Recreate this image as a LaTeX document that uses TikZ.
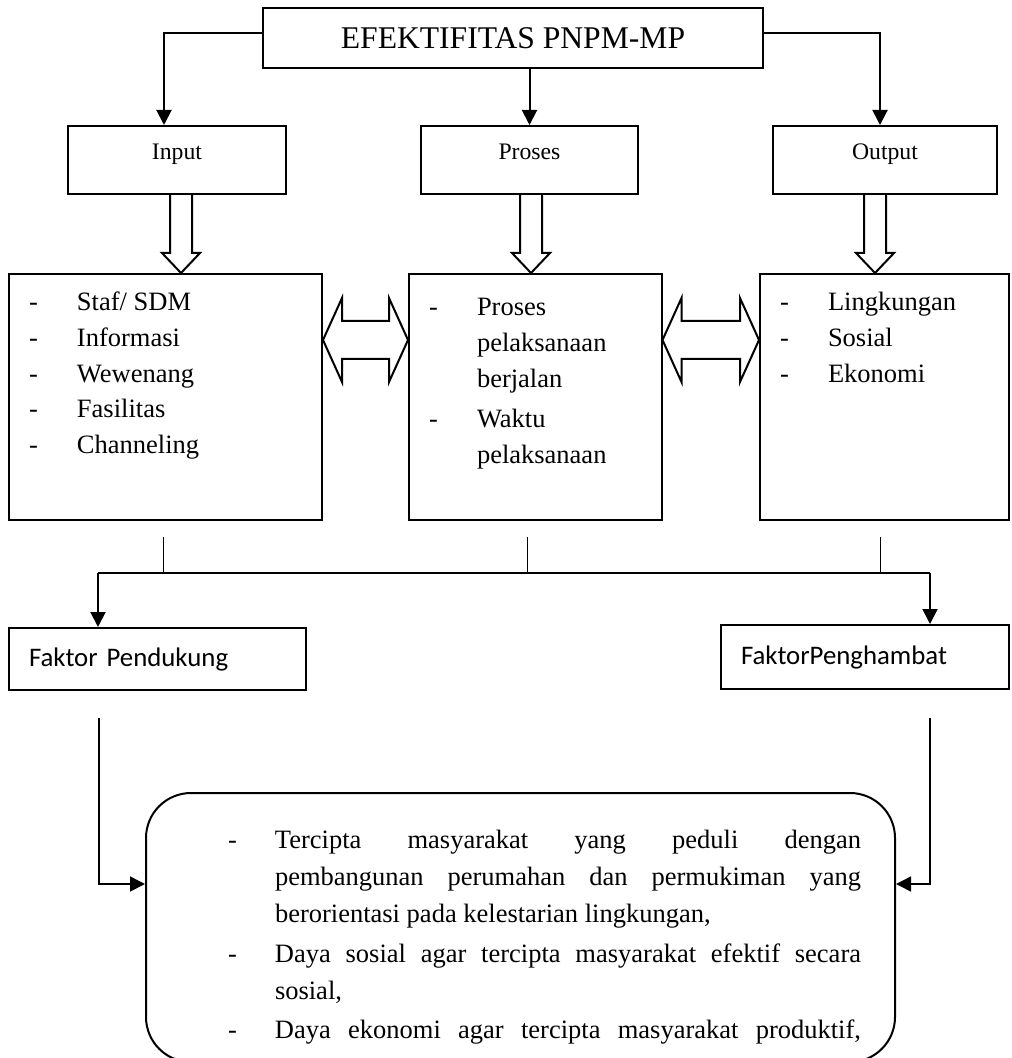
\documentclass[tikz,border=0pt]{standalone}
\usepackage{fontspec}
\setmainfont{Liberation Serif}
\newfontfamily\faktorfont{Carlito}
\usetikzlibrary{positioning,arrows.meta,calc}

\newcommand{\butir}[1]{\hspace*{10pt}\makebox[24pt][l]{-}#1}
\newcommand{\lanjut}[1]{\hspace*{34pt}#1}
\newcommand{\butirb}[1]{\hspace*{41pt}\makebox[23.5pt][l]{-}\makebox[293pt][s]{#1}}
\newcommand{\lanjutb}[1]{\hspace*{64.5pt}\makebox[293pt][s]{#1}}

% hollow block arrows
\newcommand{\panahbawah}[3]{%
  \draw[hollow] let \p1=($(#1.south)+(#3,0)$), \p2=(#2.north) in
    (\x1-5.5pt,\y1) -- (\x1-5.5pt,\y2+10pt) -- (\x1-9.5pt,\y2+10pt) -- (\x1,\y2)
    -- (\x1+9.5pt,\y2+10pt) -- (\x1+5.5pt,\y2+10pt) -- (\x1+5.5pt,\y1);}
\newcommand{\panahdua}[3]{%
  \draw[hollow] let \p1=($(#1.east)+(0,#3)$), \p2=(#2.west) in
    (\x1,\y1) -- (\x1+9.5pt,\y1+21pt) -- (\x1+9.5pt,\y1+9.5pt) -- (\x2-9.5pt,\y1+9.5pt)
    -- (\x2-9.5pt,\y1+21pt) -- (\x2,\y1) -- (\x2-9.5pt,\y1-21pt) -- (\x2-9.5pt,\y1-9.5pt)
    -- (\x1+9.5pt,\y1-9.5pt) -- (\x1+9.5pt,\y1-21pt) -- cycle;}

\begin{document}
\begin{tikzpicture}[x=0.5pt, y=-0.5pt, >={Triangle[length=7.5pt,width=7.5pt]},
box/.style={draw, line width=1pt, inner sep=0pt, text centered},
kotak/.style={box, minimum height=34pt, text height=8pt, text depth=8pt, font=\fontsize{11.85}{14}\selectfont},
daftar/.style={box, font=\fontsize{13.25}{17.8}\selectfont},
faktor/.style={box, inner xsep=10pt, align=left, font=\faktorfont\fontsize{13.4}{16}\selectfont},
hollow/.style={draw, line width=1pt, line join=miter},
link/.style={->, line width=1pt},
stub/.style={line width=0.5pt}
]
\useasboundingbox (0,0) rectangle (1011,1058);

\node (judul) [box, minimum width=250pt, minimum height=30pt, font=\fontsize{15.8}{19}\selectfont] at (513,38) {EFEKTIFITAS PNPM-MP};

\node (inp) [kotak, minimum width=109pt] at (177,160) {Input};
\node (pro) [kotak, minimum width=108.5pt] at (529.5,160) {Proses};
\node (out) [kotak, minimum width=112pt] at (885,160) {Output};

\node (sdm) [daftar] at (165.5,397) {\parbox[c][123pt][t]{156.5pt}{\vspace*{6pt}\strut\butir{Staf/ SDM}\\ \butir{Informasi}\\ \butir{Wewenang}\\ \butir{Fasilitas}\\ \butir{Channeling}}};
\node (pelaksanaan) [daftar] at (535.25,397) {\parbox[c][123pt][t]{126.25pt}{\vspace*{8.5pt}\strut\butir{Proses}\\ \lanjut{pelaksanaan}\\ \lanjut{berjalan}\\[2.5pt] \butir{Waktu}\\ \lanjut{pelaksanaan}}};
\node (dampak) [daftar] at (884.5,397) {\parbox[c][123pt][t]{124.5pt}{\vspace*{6pt}\strut\butir{Lingkungan}\\ \butir{Sosial}\\ \butir{Ekonomi}}};

\node (dukung) [faktor, text width=128.5pt, minimum height=31pt] at (157.5,659) {Faktor Pendukung};
\node (hambat) [faktor, text width=124pt, minimum height=32pt] at (865,657) {FaktorPenghambat};

\node (hasil) [box, rounded corners=22.5pt] at (520.5,927.5) {\parbox[c][134.5pt][t]{374.5pt}{\fontsize{13.25}{18.5}\selectfont\vspace*{15pt}\strut\butirb{Tercipta masyarakat yang peduli dengan}\\ \lanjutb{pembangunan perumahan dan permukiman yang}\\ \hspace*{64.5pt}berorientasi pada kelestarian lingkungan,\\[1.25pt] \butirb{Daya sosial agar tercipta masyarakat efektif secara}\\ \hspace*{64.5pt}sosial,\\[1.25pt] \butirb{Daya ekonomi agar tercipta masyarakat produktif,}}};

\draw[link] ([yshift=2.5pt]judul.west) -| ([xshift=-6.5pt]inp.north);
\draw[link] (judul.south -| pro.north) -- (pro.north);
\draw[link] ([yshift=2.5pt]judul.east) -| ([xshift=-2.5pt]out.north);

\panahbawah{inp}{sdm}{2pt}
\panahbawah{pro}{pelaksanaan}{0.75pt}
\panahbawah{out}{dampak}{-5pt}
\panahdua{sdm}{pelaksanaan}{28.5pt}
\panahdua{pelaksanaan}{dampak}{28.5pt}

\coordinate (busL) at (98,573);
\coordinate (busR) at (930,573);
\draw[stub] ($(sdm.south)+(-1.25pt,-8pt)$) -- ($(sdm.south |- busL)+(-1.25pt,0)$);
\draw[stub] ($(pelaksanaan.south)+(-4pt,-8pt)$) -- ($(pelaksanaan.south |- busL)+(-4pt,0)$);
\draw[stub] ($(dampak.south)+(-2.25pt,-8pt)$) -- ($(dampak.south |- busL)+(-2.25pt,0)$);
\draw[line width=1pt] (busL) -- (busR);
\draw[link] (busL) -- (busL |- dukung.north);
\draw[link] (busR) -- (busR |- hambat.north);

\coordinate (turunL) at (99,718);
\coordinate (turunR) at (930,718);
\draw[->, line width=0.8pt] (turunL) |- ([yshift=21.75pt]hasil.west);
\draw[->, line width=0.8pt] (turunR) |- ([yshift=21.75pt]hasil.east);

\end{tikzpicture}
\end{document}
